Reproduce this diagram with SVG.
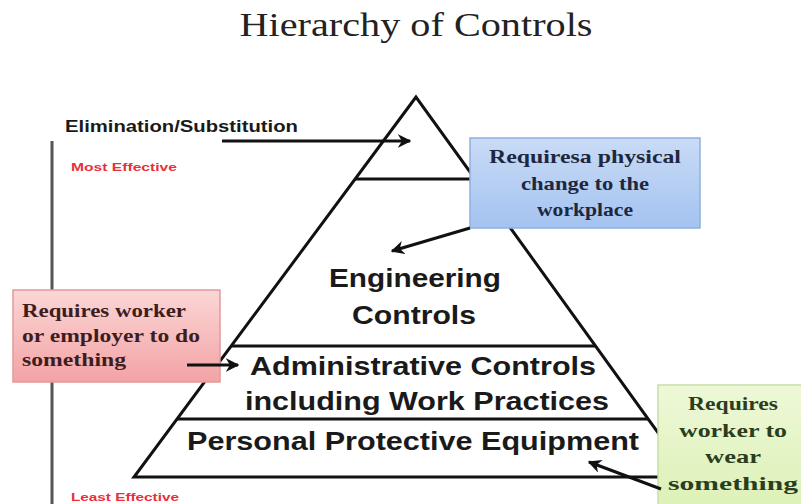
<svg xmlns="http://www.w3.org/2000/svg" width="801" height="504" viewBox="0 0 801 504">
<defs>
<style>
.title{font-family:"Liberation Serif",serif;font-size:34px;fill:#222}
.lbl{font-family:"Liberation Sans",Arial,sans-serif;font-weight:bold;fill:#1a1a1a}
.tier{font-family:"Liberation Sans",Arial,sans-serif;font-weight:bold;font-size:26px;fill:#1a1a1a;text-anchor:middle}
.red{font-family:"Liberation Sans",Arial,sans-serif;font-weight:bold;font-size:11px;fill:#e8303a}
.note{font-family:"Liberation Serif",serif;font-weight:bold;font-size:19px}
.edge{stroke:#111;stroke-width:3;fill:none}
.conn{stroke:#111;stroke-width:3;fill:none}
</style>
<linearGradient id="gBlue" x1="0" y1="0" x2="0" y2="1"><stop offset="0" stop-color="#c9dbf6"/><stop offset="1" stop-color="#a4c3f0"/></linearGradient>
<linearGradient id="gPink" x1="0" y1="0" x2="0" y2="1"><stop offset="0" stop-color="#fbd6d6"/><stop offset="1" stop-color="#f3a3a5"/></linearGradient>
<linearGradient id="gGreen" x1="0" y1="0" x2="0" y2="1"><stop offset="0" stop-color="#eef8d8"/><stop offset="1" stop-color="#dcf1b6"/></linearGradient>
<marker id="arr" viewBox="0 0 10 10" refX="9" refY="5" markerWidth="4.5" markerHeight="4.5" orient="auto" markerUnits="strokeWidth">
<path d="M0,0 L10,5 L0,10 L3,5 z" fill="#111"/>
</marker>
</defs>
<rect width="801" height="504" fill="#ffffff"/>
<text class="title" x="416" y="36" text-anchor="middle" textLength="353" lengthAdjust="spacingAndGlyphs">Hierarchy of Controls</text>

<g id="scale">
<line x1="52" y1="141" x2="52" y2="504" stroke="#555" stroke-width="3"/>
<text class="red" x="71" y="171" textLength="106" lengthAdjust="spacingAndGlyphs">Most Effective</text>
<text class="red" x="71" y="501" textLength="108" lengthAdjust="spacingAndGlyphs">Least Effective</text>
</g>

<g id="elimination">
<text class="lbl" x="65" y="132" font-size="17" textLength="233" lengthAdjust="spacingAndGlyphs">Elimination/Substitution</text>
</g>

<g id="pyramid">
<polygon class="edge" points="416,97 134,477 690,477" stroke-linejoin="miter"/>
<line class="edge" x1="355" y1="179" x2="476" y2="179"/>
<line class="edge" x1="231" y1="346" x2="596" y2="346"/>
<line class="edge" x1="177" y1="419" x2="648" y2="419"/>
</g>

<g id="engineering">
<text class="tier" x="415" y="287" textLength="172" lengthAdjust="spacingAndGlyphs">Engineering</text>
<text class="tier" x="414" y="324" textLength="124" lengthAdjust="spacingAndGlyphs">Controls</text>
</g>
<g id="administrative">
<text class="tier" x="423" y="375" textLength="346" lengthAdjust="spacingAndGlyphs">Administrative Controls</text>
<text class="tier" x="427" y="410" textLength="364" lengthAdjust="spacingAndGlyphs">including Work Practices</text>
</g>
<g id="ppe">
<text class="tier" x="413" y="450" textLength="452" lengthAdjust="spacingAndGlyphs">Personal Protective Equipment</text>
</g>

<g id="note-blue">
<rect x="470" y="138" width="230" height="90" fill="url(#gBlue)" stroke="#8fb0de" stroke-width="1.5"/>
<g class="note" fill="#1e2740" text-anchor="middle">
<text x="585" y="163" textLength="192" lengthAdjust="spacingAndGlyphs">Requiresa physical</text>
<text x="585" y="190" textLength="128" lengthAdjust="spacingAndGlyphs">change to the</text>
<text x="585" y="216" textLength="96" lengthAdjust="spacingAndGlyphs">workplace</text>
</g>
</g>

<g id="note-pink">
<rect x="13" y="290" width="207" height="92" fill="url(#gPink)" stroke="#e39a9a" stroke-width="1.5"/>
<g class="note" fill="#3d1d1d">
<text x="22" y="317" textLength="164" lengthAdjust="spacingAndGlyphs">Requires worker</text>
<text x="22" y="342" textLength="178" lengthAdjust="spacingAndGlyphs">or employer to do</text>
<text x="22" y="366" textLength="104" lengthAdjust="spacingAndGlyphs">something</text>
</g>
</g>

<g id="note-green">
<rect x="658" y="385" width="150" height="125" fill="url(#gGreen)" stroke="#c6e0a4" stroke-width="1.5"/>
<g class="note" fill="#2a3d1c" text-anchor="middle">
<text x="733" y="410" textLength="90" lengthAdjust="spacingAndGlyphs">Requires</text>
<text x="733" y="437" textLength="108" lengthAdjust="spacingAndGlyphs">worker to</text>
<text x="733" y="463" textLength="56" lengthAdjust="spacingAndGlyphs">wear</text>
<text x="733" y="490" textLength="130" lengthAdjust="spacingAndGlyphs">something</text>
</g>
</g>

<g id="connectors">
<line class="conn" x1="222" y1="141" x2="410" y2="141" marker-end="url(#arr)"/>
<line class="conn" x1="470" y1="228" x2="392" y2="251" marker-end="url(#arr)"/>
<line class="conn" x1="187" y1="365" x2="238" y2="365" marker-end="url(#arr)"/>
<line class="conn" x1="661" y1="489" x2="589" y2="462" marker-end="url(#arr)"/>
</g>
</svg>
